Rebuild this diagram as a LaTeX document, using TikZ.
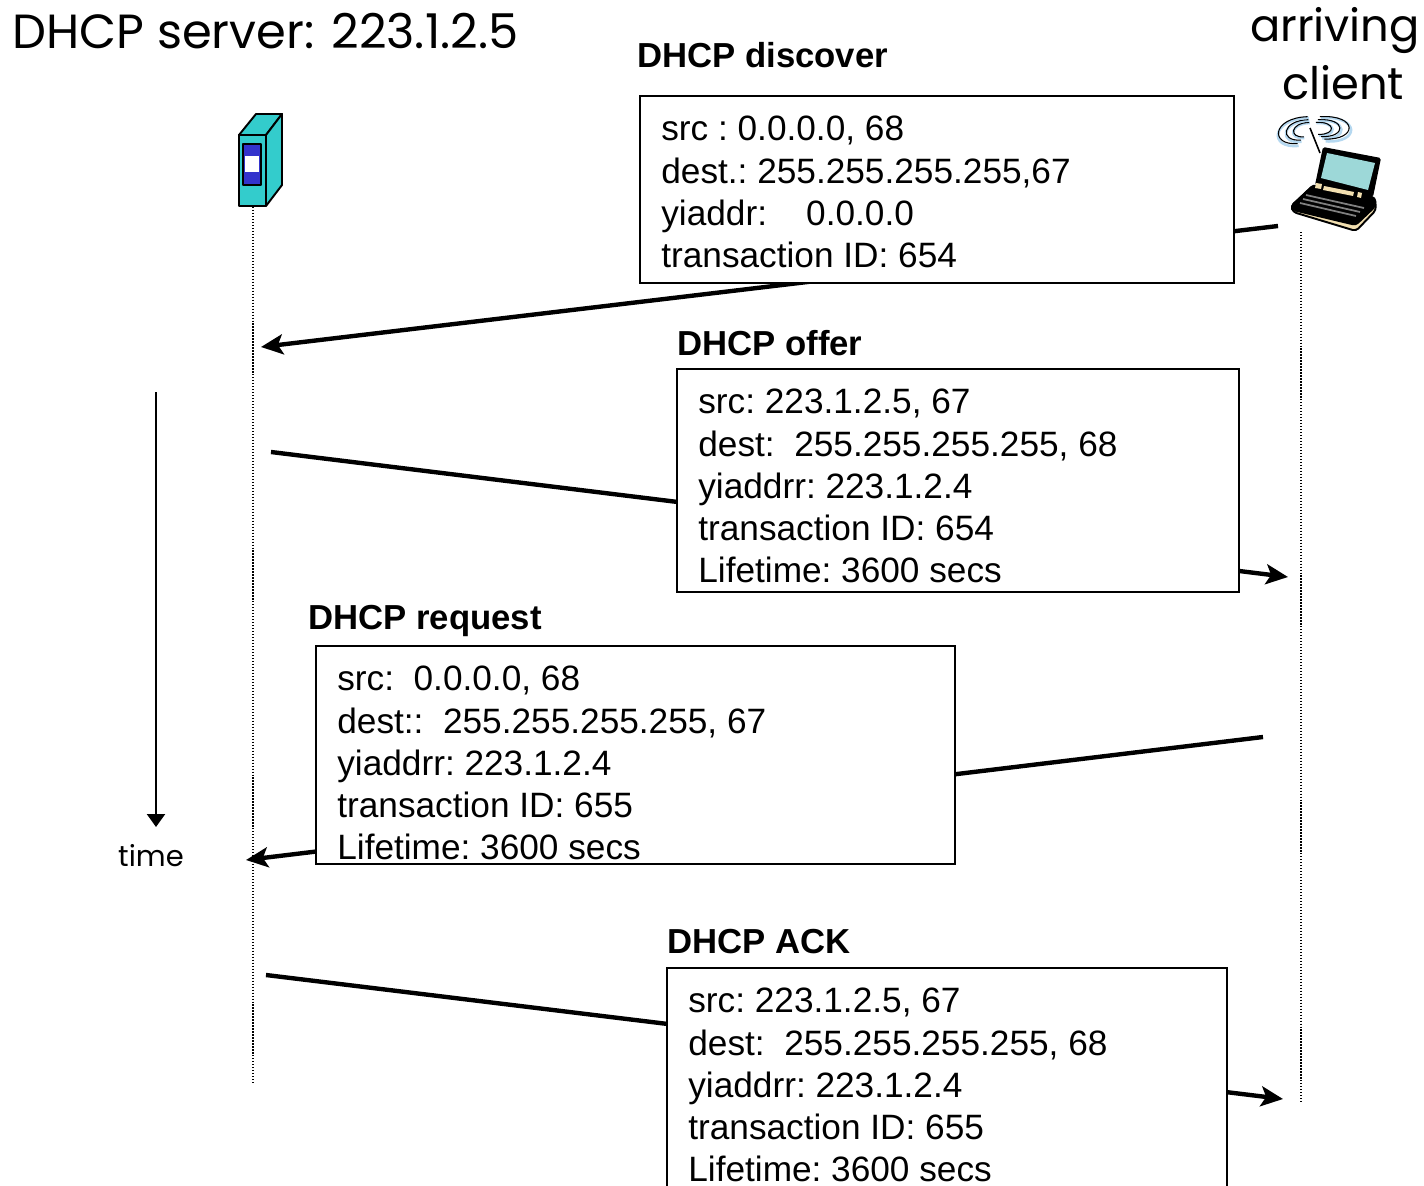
\documentclass[tikz,border=0pt]{standalone}
\usepackage{fontspec}
\setmainfont{Liberation Sans}
\newfontfamily\handfont{Poppins}
\usetikzlibrary{arrows.meta, positioning}
\definecolor{serverteal}{HTML}{33CCCC}
\definecolor{serverblue}{HTML}{3333CC}
\definecolor{screenteal}{HTML}{9DD8D8}
\definecolor{lapcream}{HTML}{F2DFB0}
\definecolor{wavesblue}{HTML}{B5D8F0}
\tikzstyle{msgbox} = [draw, fill=white, line width=1.15pt, rectangle, anchor=north west, inner sep=0pt]
\tikzstyle{msgtext} = [anchor=north west, align=left, inner xsep=0.44cm, inner ysep=0.42cm, font=\frenchspacing\fontsize{20.05pt}{23.95pt}\selectfont]
\tikzstyle{msghead} = [anchor=west, inner sep=0pt, font=\fontsize{19.75pt}{22pt}\selectfont\bfseries]
\tikzstyle{hand} = [inner sep=0pt, font=\handfont\fontsize{25.5pt}{30pt}\selectfont]
\tikzstyle{msgline} = [-{Stealth[length=4.4mm, width=4mm, inset=1mm]}, line width=2.5pt]
\tikzstyle{lifeline} = [densely dotted, line width=0.7pt]
\tikzstyle{iconline} = [line width=1.1pt, line join=round]

\begin{document}
\begin{tikzpicture}[x=0.02cm, y=-0.02cm]
    \useasboundingbox (0,0) rectangle (1424,1186);
    \clip (0,0) rectangle (1424,1186);

    \coordinate (server top) at (253,207);
    \coordinate (server end) at (253,1084);
    \coordinate (client top) at (1301,232);
    \coordinate (client end) at (1301,1102);
    \coordinate (discover from) at (1278,226);
    \coordinate (discover to) at (261,347);
    \coordinate (offer from) at (271,452);
    \coordinate (offer to) at (1288,577);
    \coordinate (request from) at (1263,737);
    \coordinate (request to) at (246,860);
    \coordinate (ack from) at (266,975);
    \coordinate (ack to) at (1283,1099);
    \coordinate (time from) at (156,392);
    \coordinate (time to) at (156,827);

    % Lifelines.
    \draw [lifeline] (server top) -- (server end);
    \draw [lifeline] (client top) -- (client end);

    % Arrows.
    \draw [msgline] (discover from) -- (discover to);
    \draw [msgline] (offer from) -- (offer to);
    \draw [msgline] (request from) -- (request to);
    \draw [msgline] (ack from) -- (ack to);
    \draw [-{Triangle[length=2.6mm, width=3.6mm]}, line width=1.3pt] (time from) -- (time to);

    % Messages.
    \node (discover) [msgbox, minimum width=11.88cm, minimum height=3.74cm] at (639,95) {};
    \node (discover text) [msgtext] at (discover.north west) {src : 0.0.0.0, 68\\dest.: 255.255.255.255,67\\yiaddr:\ \ \ \ 0.0.0.0\\transaction ID: 654};
    \node (discover head) [msghead] at (637,55) {DHCP discover};

    \node (offer) [msgbox, minimum width=11.24cm, minimum height=4.46cm] at (676,368) {};
    \node (offer text) [msgtext] at (offer.north west) {src: 223.1.2.5, 67\\dest:\ \ 255.255.255.255, 68\\yiaddrr: 223.1.2.4\\transaction ID: 654\\Lifetime: 3600 secs};
    \node (offer head) [msghead] at (677,343) {DHCP offer};

    \node (request) [msgbox, minimum width=12.78cm, minimum height=4.36cm] at (315,645) {};
    \node (request text) [msgtext] at (request.north west) {src:\ \ 0.0.0.0, 68\\dest::\ \ 255.255.255.255, 67\\yiaddrr: 223.1.2.4\\transaction ID: 655\\Lifetime: 3600 secs};
    \node (request head) [msghead] at (308,621) {DHCP request};

    \node (ack) [msgbox, minimum width=11.2cm, minimum height=4.6cm] at (666,967) {};
    \node (ack text) [msgtext] at (ack.north west) {src: 223.1.2.5, 67\\dest:\ \ 255.255.255.255, 68\\yiaddrr: 223.1.2.4\\transaction ID: 655\\Lifetime: 3600 secs};
    \node (ack head) [msghead] at (667,942) {DHCP ACK};

    % Hand lettering.
    \node (server label) [hand, anchor=west, font=\handfont\fontsize{27.3pt}{30pt}\selectfont] at (12,31) {DHCP server: 223.1.2.5};
    \node (arriving) [hand] at (1335,31) {arriving};
    \node (client) [hand] at (1343,83) {client};
    \node (time) [hand, font=\handfont\fontsize{16.5pt}{20pt}\selectfont] at (151,856) {time};

    % Server.
    \filldraw [iconline, fill=serverteal] (239,135) -- (256,114) -- (282,114) -- (266,135) -- cycle;
    \filldraw [iconline, fill=serverteal] (266,135) -- (282,114) -- (282,185) -- (266,206) -- cycle;
    \filldraw [iconline, fill=serverteal] (239,135) rectangle (266,206);
    \filldraw [iconline, fill=serverblue] (243,144) rectangle (261,185);
    \fill [white] (245,156) rectangle (259,172);

    % Laptop.
    \foreach \wave in {0.6, 0.85, 1.12} {
        \begin{scope}[shift={(1311,129)}, scale=\wave]
            \draw [wavesblue, line width=1.5pt] (-11,15) .. controls (-38,18) and (-36,-9) .. (-2,-10);
            \draw [wavesblue, line width=1.5pt] (13,11) .. controls (44,13) and (44,-12) .. (9,-10);
            \draw [line width=0.6pt] (-12,13) .. controls (-37,15) and (-35,-10) .. (-3,-11);
            \draw [line width=0.6pt] (12,9) .. controls (42,10) and (42,-13) .. (8,-11);
        \end{scope}
    }
    \draw [line width=0.9pt] (1310,128) -- (1320,153);
    \filldraw [iconline, fill=lapcream, rounded corners=2pt] (1291,206) -- (1293,212) -- (1356,231) -- (1376,210) -- (1375,198) -- (1313,186) -- cycle;
    \fill [black, rounded corners=2pt] (1290,206) -- (1313,184) -- (1376,197) -- (1376,207) -- (1356,226) -- (1293,211) -- cycle;
    \fill [black, rounded corners=1pt] (1323,147) -- (1381,158) -- (1373,197) -- (1315,185) -- cycle;
    \fill [screenteal] (1327,153) -- (1375,163) -- (1368,190) -- (1321,178) -- cycle;
    \fill [lapcream] (1316,183) -- (1322,184) -- (1321,189) -- (1315,188) -- cycle;
    \fill [lapcream] (1358,192) -- (1362,193) -- (1361,198) -- (1357,197) -- cycle;
    \fill [lapcream] (1324,186) -- (1354,192) -- (1353,196) -- (1323,190) -- cycle;
    \draw [gray, line width=1pt] (1306,195) -- (1364,208);
    \draw [gray, line width=1pt] (1303,199) -- (1360,212);
    \draw [gray, line width=1pt] (1300,203) -- (1356,216);
\end{tikzpicture}
\end{document}
